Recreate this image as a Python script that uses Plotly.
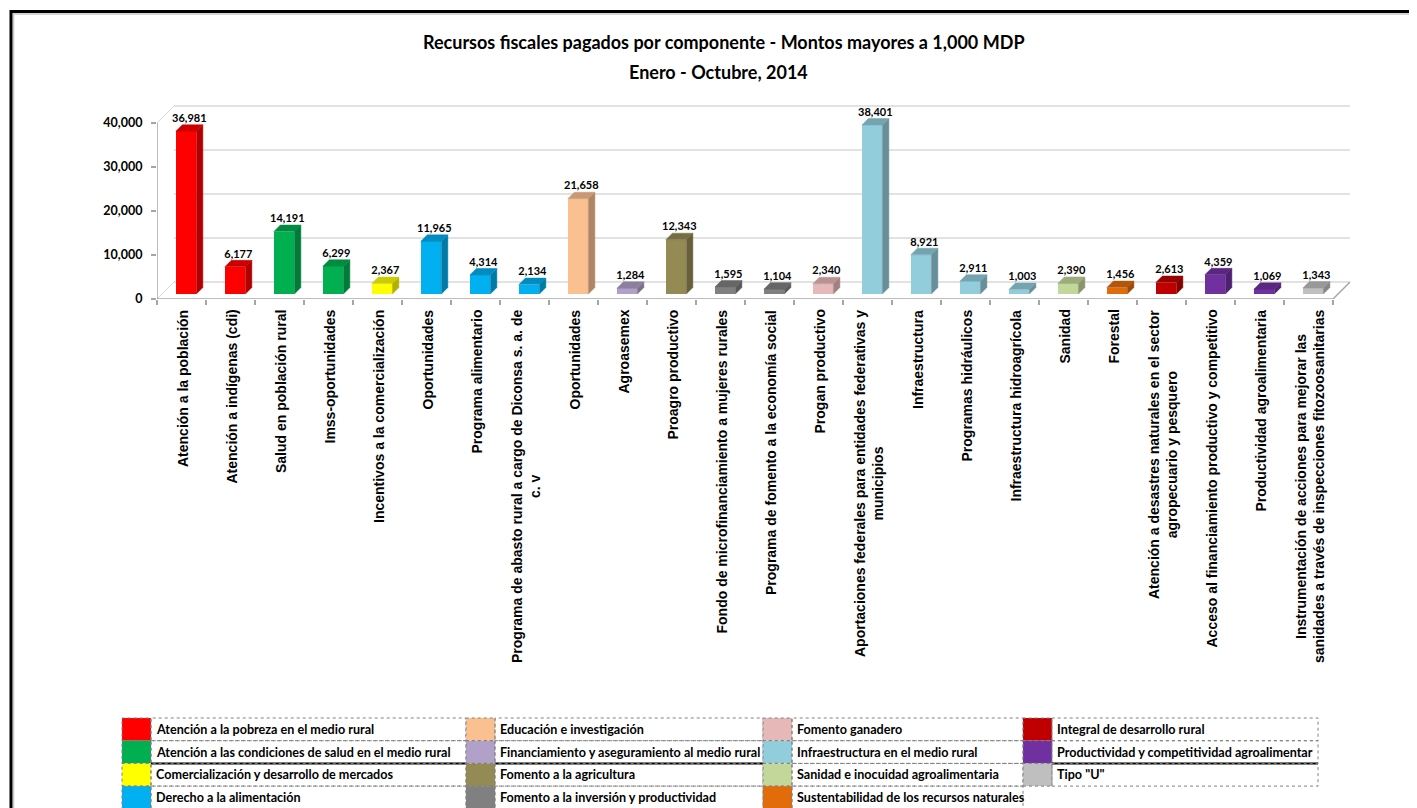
import plotly.graph_objects as go

# ---------------- data ----------------
categories = [
    "Atención a la población",
    "Atención a indígenas (cdi)",
    "Salud en población rural",
    "Imss-oportunidades",
    "Incentivos a la comercialización",
    "Oportunidades",
    "Programa alimentario",
    "Programa de abasto rural a cargo de Diconsa s. a. de<br>c. v",
    "Oportunidades",
    "Agroasemex",
    "Proagro productivo",
    "Fondo de microfinanciamiento a mujeres rurales",
    "Programa de fomento a la economía social",
    "Progan productivo",
    "Aportaciones federales para entidades federativas y<br>municipios",
    "Infraestructura",
    "Programas hidráulicos",
    "Infraestructura hidroagrícola",
    "Sanidad",
    "Forestal",
    "Atención a desastres naturales en el sector<br>agropecuario y pesquero",
    "Acceso al financiamiento productivo y competitivo",
    "Productividad agroalimentaria",
    "Instrumentación de acciones para mejorar las<br>sanidades a través de inspecciones fitozoosanitarias",
]
values = [36981, 6177, 14191, 6299, 2367, 11965, 4314, 2134, 21658, 1284, 12343, 1595,
          1104, 2340, 38401, 8921, 2911, 1003, 2390, 1456, 2613, 4359, 1069, 1343]
category_group = [0, 0, 1, 1, 2, 3, 3, 3, 4, 5, 6, 7, 7, 8, 9, 9, 9, 9, 10, 11, 12, 13, 13, 14]

groups = [
    "Atención a la pobreza en el medio rural",
    "Atención a las condiciones de salud en el medio rural",
    "Comercialización y desarrollo de mercados",
    "Derecho a la alimentación",
    "Educación e investigación",
    "Financiamiento y aseguramiento al medio rural",
    "Fomento a la agricultura",
    "Fomento a la inversión y productividad",
    "Fomento ganadero",
    "Infraestructura en el medio rural",
    "Sanidad e inocuidad agroalimentaria",
    "Sustentabilidad de los recursos naturales",
    "Integral de desarrollo rural",
    "Productividad y competitividad agroalimentar",
    'Tipo "U"',
]
group_colors = ["#FF0000", "#00B050", "#FFFF00", "#00B0F0", "#FAC090", "#B1A0C7", "#948A54",
                "#808080", "#E6B8B7", "#92CDDC", "#C4D79B", "#E26B0A", "#C00000", "#7030A0",
                "#BFBFBF"]

y_ticks = [0, 10000, 20000, 30000, 40000]
title_lines = ["Recursos fiscales pagados por componente - Montos mayores a 1,000 MDP",
               "Enero - Octubre, 2014"]

# ---------------- geometry ----------------
OFF = 8                 # page body margin (px)
W, H = 1417 - OFF, 808 - OFF
PXC = 49.0              # pixels per category
PXU = 44.0 / 10000      # pixels per value unit
L_REF, BOT_REF, TOP_REF = 157, 299, 100   # page pixel positions
L = L_REF - OFF
BOT = BOT_REF - OFF
TOP = TOP_REF - OFF
OX, OY = 17 / PXC, 17 / PXU          # back wall offset
BASE = 5 / PXU                        # bars sit slightly back
DXF = 4.6 / PXC                       # bar front-face shift
BW = 20.5 / PXC                       # bar width
DDX, DDY = 6.5 / PXC, 6.5 / PXU       # bar depth
n = len(categories)
XMIN, XMAX = -0.5, n - 0.5 + OX + 0.02
PW = (XMAX - XMIN) * PXC
PH = BOT - TOP
YMAX = PH / PXU


def px_x(px):   # page pixel -> paper x
    return (px - OFF - L) / PW


def px_y(py):   # page pixel -> paper y
    return (BOT - (py - OFF)) / PH


def shade(hexc, f):
    h = hexc.lstrip("#")
    r, g, b = (int(h[i:i + 2], 16) for i in (0, 2, 4))
    return "#%02x%02x%02x" % (int(r * f), int(g * f), int(b * f))


CAL = "Lato, Carlito, Calibri, sans-serif"
SANS = "Liberation Sans, Arial, sans-serif"

bar_colors = [group_colors[g] for g in category_group]
xs = [i + DXF for i in range(n)]

fig = go.Figure()
fig.add_trace(go.Bar(x=xs, y=values, base=[BASE] * n, width=BW,
                     marker=dict(color=bar_colors, line=dict(width=0)),
                     showlegend=False, hoverinfo="skip"))

for i, v in enumerate(values):
    xl, xr = xs[i] - BW / 2, xs[i] + BW / 2
    top = BASE + v
    c = bar_colors[i]
    fig.add_trace(go.Scatter(
        x=[xr, xr + DDX, xr + DDX, xr, xr], y=[BASE, BASE + DDY, top + DDY, top, BASE],
        mode="lines", fill="toself", fillcolor=shade(c, 0.7),
        line=dict(width=0.5, color=shade(c, 0.7)), showlegend=False, hoverinfo="skip"))
    fig.add_trace(go.Scatter(
        x=[xl, xl + DDX, xr + DDX, xr, xl], y=[top, top + DDY, top + DDY, top, top],
        mode="lines", fill="toself", fillcolor=shade(c, 0.8),
        line=dict(width=0.5, color=shade(c, 0.8)), showlegend=False, hoverinfo="skip"))

fig.add_trace(go.Scatter(
    x=[x + DDX / 2 for x in xs], y=[BASE + v + DDY for v in values],
    mode="text", text=[f"{v:,}" for v in values], textposition="top center",
    textfont=dict(family=CAL, size=11, color="#000000", weight="bold"),
    showlegend=False, hoverinfo="skip", cliponaxis=False))

shapes = []
AX = "#A6A6A6"
for v in y_ticks:
    shapes.append(dict(type="line", xref="x", yref="y", x0=XMIN + OX, x1=n - 0.5 + OX,
                       y0=v + OY, y1=v + OY, line=dict(color="#E2E2E2", width=2), layer="below"))
for v in [0, y_ticks[-1]]:
    shapes.append(dict(type="line", xref="x", yref="y", x0=XMIN, x1=XMIN + OX,
                       y0=v, y1=v + OY, line=dict(color="#D9D9D9", width=1), layer="below"))
shapes.append(dict(type="line", xref="x", yref="y", x0=XMIN, x1=n - 0.5, y0=0, y1=0,
                   line=dict(color=AX, width=1.5), layer="below"))
shapes.append(dict(type="line", xref="x", yref="y", x0=n - 0.5, x1=n - 0.5 + OX, y0=0, y1=OY,
                   line=dict(color=AX, width=1.5), layer="below"))
shapes.append(dict(type="line", xref="x", yref="y", x0=XMIN, x1=XMIN, y0=0, y1=y_ticks[-1],
                   line=dict(color=AX, width=1.5), layer="below"))

# outer frame
shapes.append(dict(type="rect", xref="paper", yref="paper", x0=px_x(13.5), x1=px_x(1440),
                   y0=px_y(14), y1=px_y(830), line=dict(color="#C8C8C8", width=1.5)))
shapes.append(dict(type="rect", xref="paper", yref="paper", x0=px_x(11), x1=px_x(1440),
                   y0=px_y(11.5), y1=px_y(830), line=dict(color="#000000", width=3)))

annotations = []
# title
annotations.append(dict(text=title_lines[0], xref="paper", yref="paper", x=px_x(724), y=px_y(42),
                        xanchor="center", yanchor="middle", showarrow=False,
                        font=dict(family=CAL, size=18, color="#000000", weight="bold")))
annotations.append(dict(text=title_lines[1], xref="paper", yref="paper", x=px_x(718), y=px_y(72),
                        xanchor="center", yanchor="middle", showarrow=False,
                        font=dict(family=CAL, size=18, color="#000000", weight="bold")))

# category labels
for i, cat in enumerate(categories):
    annotations.append(dict(text=cat, xref="x", yref="paper", x=i + 1 / PXC, y=px_y(309),
                            xanchor="center", yanchor="top", textangle=-90, align="center",
                            showarrow=False, borderpad=0,
                            font=dict(family=SANS, size=14, color="#000000", weight="bold")))

# legend table
col_box_left = [122, 466, 763, 1023]
col_right = [466, 763, 1023, 1318]
BOXW = 29
ROW0, ROWH = 718, 22.7
for k, (g, col) in enumerate(zip(groups, group_colors)):
    c, r = k // 4, k % 4
    y0, y1 = ROW0 + r * ROWH, ROW0 + (r + 1) * ROWH
    bx0, bx1 = col_box_left[c], col_box_left[c] + BOXW
    shapes.append(dict(type="rect", xref="paper", yref="paper", x0=px_x(bx0), x1=px_x(bx1),
                       y0=px_y(y1), y1=px_y(y0), fillcolor=col,
                       line=dict(color="#808080", width=1, dash="dot")))
    shapes.append(dict(type="rect", xref="paper", yref="paper", x0=px_x(bx1), x1=px_x(col_right[c]),
                       y0=px_y(y1), y1=px_y(y0),
                       line=dict(color="#808080", width=1, dash="dot")))
    if r == 1 and c != 2:
        shapes.append(dict(type="line", xref="paper", yref="paper", x0=px_x(bx1), x1=px_x(col_right[c]),
                           y0=px_y(y1), y1=px_y(y1), line=dict(color="#000000", width=2)))
    annotations.append(dict(text=g, xref="paper", yref="paper", x=px_x(bx1 + 3), y=px_y((y0 + y1) / 2),
                            xanchor="left", yanchor="middle", showarrow=False,
                            font=dict(family=CAL, size=12.6, color="#000000", weight="bold")))

fig.update_layout(
    width=W, height=H, autosize=False,
    margin=dict(l=L, r=W - L - PW, t=TOP, b=H - BOT, pad=0),
    paper_bgcolor="#FFFFFF", plot_bgcolor="rgba(0,0,0,0)",
    showlegend=False, bargap=0,
    xaxis=dict(range=[XMIN, XMAX], showgrid=False, zeroline=False, showline=False,
               tickvals=[i - 0.5 for i in range(n + 1)], showticklabels=False,
               ticks="outside", ticklen=5, tickcolor=AX, tickwidth=1.5, fixedrange=True),
    yaxis=dict(range=[0, YMAX], showgrid=False, zeroline=False, showline=False,
               tickvals=y_ticks, ticktext=[f"{v:,}" for v in y_ticks],
               ticks="outside", ticklen=5, tickcolor=AX, tickwidth=1.5, ticklabelstandoff=6,
               tickfont=dict(family=CAL, size=12.5, color="#000000", weight="bold"),
               fixedrange=True),
    shapes=shapes, annotations=annotations,
)

fig.write_html("out.html")
